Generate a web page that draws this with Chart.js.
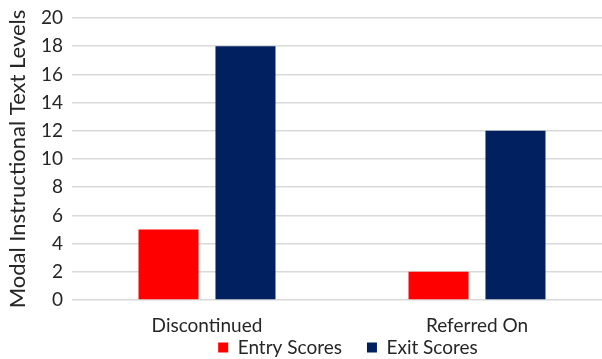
<!DOCTYPE html>
<html>
<head>
<meta charset="utf-8">
<script src="https://cdn.jsdelivr.net/npm/chart.js@4"></script>
<style>
  html, body { margin: 0; padding: 0; background: #fff; overflow: hidden; }
  #wrap { width: 612px; height: 359px; position: relative; }
</style>
</head>
<body>
<div id="wrap"><canvas id="levelsChart"></canvas></div>
<script>
const categories = ["Discontinued", "Referred On"];
const entryScores = [5, 2];
const exitScores = [18, 12];
const yTicks = [0, 2, 4, 6, 8, 10, 12, 14, 16, 18, 20];

const FONT = "Lato, 'Open Sans', sans-serif";

// put the legend under the visible part of the chart
const legendShift = {
    id: "legendShift",
    afterLayout(chart) {
        const lg = chart.legend;
        lg.left += 42;
        lg.right += 42;
        lg.top = 313;
        lg.bottom = 359;
    }
};

const levelsChart = new Chart(
    document.getElementById("levelsChart"),
    {
        type: "bar",
        data: {
            labels: categories,
            datasets: [
                {
                    label: "Entry Scores",
                    data: entryScores,
                    backgroundColor: "#FF0000",
                    categoryPercentage: 0.57,
                    barPercentage: 0.78
                },
                {
                    label: "Exit Scores",
                    data: exitScores,
                    backgroundColor: "#002060",
                    categoryPercentage: 0.57,
                    barPercentage: 0.78
                }
            ]
        },
        options: {
            responsive: true,
            maintainAspectRatio: false,
            animation: false,
            layout: {
                padding: { top: 18, bottom: 0, left: 0, right: 0 }
            },
            plugins: {
                legend: {
                    position: "bottom",
                    maxHeight: 23,
                    labels: {
                        font: { family: FONT, size: 19 },
                        color: "#262626",
                        boxWidth: 10,
                        boxHeight: 10,
                        padding: 25
                    }
                },
                tooltip: { enabled: false }
            },
            scales: {
                x: {
                    grid: { display: false },
                    border: { display: false },
                    afterFit(scale) {
                        scale.height = 36;
                    },
                    ticks: {
                        font: { family: FONT, size: 19 },
                        color: "#262626",
                        padding: 6
                    }
                },
                y: {
                    min: 0,
                    max: 20,
                    afterBuildTicks(scale) {
                        scale.ticks = yTicks.map(v => ({ value: v }));
                    },
                    afterFit(scale) {
                        scale.width = 72;
                        scale.paddingTop = 0;
                        scale.paddingBottom = 0;
                    },
                    border: { display: false },
                    grid: {
                        color: "#d9d9d9",
                        lineWidth: 1.5,
                        drawTicks: false
                    },
                    ticks: {
                        font: { family: FONT, size: 19 },
                        color: "#262626",
                        padding: 9
                    },
                    title: {
                        display: true,
                        text: "Modal Instructional Text Levels",
                        font: { family: FONT, size: 22 },
                        color: "#262626",
                        padding: { top: 5, bottom: 0 }
                    }
                }
            }
        },
        plugins: [legendShift]
    }
);
</script>
</body>
</html>
